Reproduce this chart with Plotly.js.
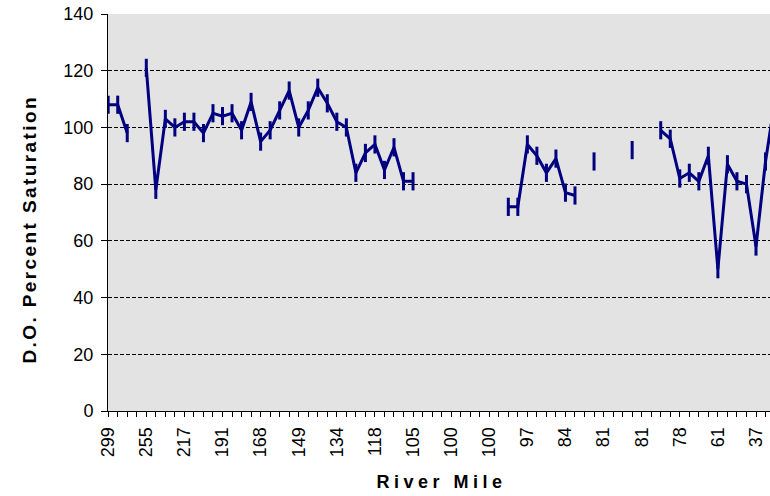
<!DOCTYPE html>
<html>
<head>
<meta charset="utf-8">
<script src="https://cdn.plot.ly/plotly-3.0.1.min.js"></script>
<style>
html,body{margin:0;padding:0;background:#fff;}
#chart{width:770px;height:496px;}
</style>
</head>
<body>
<div id="chart"></div>
<script>
// Sampling stations (category index along the river, upstream -> downstream)
const stationIndex = [];
for (let i = 0; i <= 70; i++) stationIndex.push(i);

// D.O. percent saturation at each station (null = no sample)
const doSaturation = [
  108, 108, 98, null, 121, 78, 103, 100, 102, 102,
  98, 105, 104, 105, 99, 109, 95, 99, 106, 113,
  100, 106, 114, 108.5, 102, 100, 84, 91, 94, 85,
  93, 81, 81, null, null, null, null, null, null, null,
  null, null, 72, 72, 94, 90, 84, 89, 77, 76,
  null, 88, null, null, null, 92, null, null, 99, 96,
  82, 84, 81, 90, 50, 87, 81, 80, 58, 88,
  110
];

// River-mile tick labels, shown at every 4th station
const tickLabels = ["299","255","217","191","168","149","134","118","105","100","100","97","84","81","81","78","61","37"];
const labelEvery = 4;

const xTitle = 'River Mile';
const yTitle = 'D.O. Percent Saturation';

const tickVals = stationIndex.slice();
const tickText = stationIndex.map(i => (i % labelEvery === 0 && tickLabels[i / labelEvery] !== undefined) ? tickLabels[i / labelEvery] : "");

const trace = {
  x: stationIndex,
  y: doSaturation,
  type: 'scatter',
  mode: 'lines+markers',
  connectgaps: false,
  cliponaxis: true,
  line: {color: '#000080', width: 3},
  marker: {symbol: 'line-ns', size: 13, color: '#000080', line: {color: '#000080', width: 3}},
  hoverinfo: 'skip'
};

const titleFont = {size: 19, family: 'Liberation Sans, Arial, sans-serif', weight: 'bold', color: '#000'};

const layout = {
  width: 770, height: 496,
  margin: {l: 108, r: 0, t: 14, b: 85, pad: 0},
  paper_bgcolor: '#ffffff',
  plot_bgcolor: '#e3e3e3',
  showlegend: false,
  font: {family: 'Liberation Sans, Arial, sans-serif', color: '#000', size: 18},
  xaxis: {
    range: [-0.02, 69.47],
    tickmode: 'array', tickvals: tickVals, ticktext: tickText,
    tickangle: -90,
    ticks: 'outside', ticklen: 5, tickwidth: 1, tickcolor: '#000',
    ticklabelstandoff: 3,
    showline: true, linecolor: '#000', linewidth: 1,
    showgrid: false, zeroline: false,
    tickfont: {size: 18},
    automargin: false
  },
  yaxis: {
    range: [0, 140], dtick: 20, tick0: 0,
    ticks: 'outside', ticklen: 6, tickwidth: 1, tickcolor: '#000',
    ticklabelstandoff: 4,
    showline: true, linecolor: '#000', linewidth: 1,
    showgrid: true, gridcolor: '#000', gridwidth: 1, griddash: '4px,2px',
    zeroline: false,
    tickfont: {size: 18},
    automargin: false
  },
  annotations: [
    {text: xTitle, xref: 'paper', yref: 'paper', x: 0.5038, y: -0.1788,
     xanchor: 'center', yanchor: 'middle', showarrow: false,
     font: Object.assign({}, titleFont, {size: 18})},
    {text: yTitle, xref: 'paper', yref: 'paper', x: -0.1178, y: 0.456,
     xanchor: 'center', yanchor: 'middle', textangle: -90, showarrow: false,
     font: titleFont}
  ]
};

Plotly.newPlot('chart', [trace], layout, {staticPlot: true, displayModeBar: false}).then(() => {
  const texts = document.querySelectorAll('.annotation-text');
  if (texts[0]) texts[0].style.letterSpacing = '4.5px';
  if (texts[1]) texts[1].style.letterSpacing = '2.4px';
});
</script>
</body>
</html>
